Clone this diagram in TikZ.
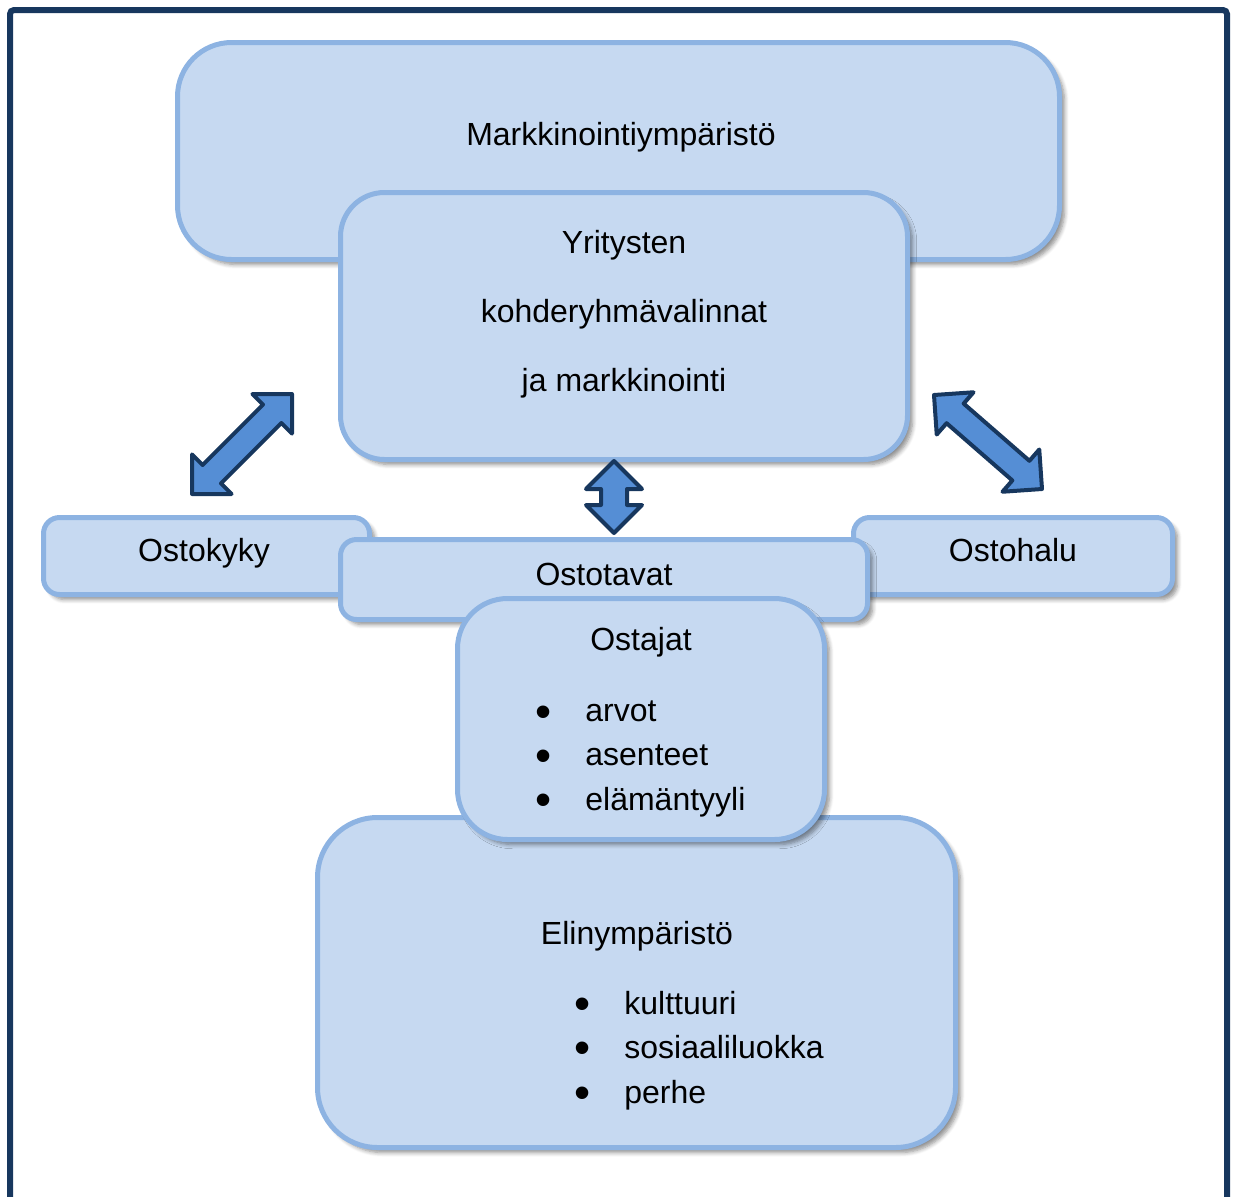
\documentclass[tikz,border=0pt]{standalone}
\usepackage{fontspec}
\setmainfont{Liberation Sans}
\usetikzlibrary{calc,shadows.blur}

\definecolor{boxfill}{HTML}{C6D9F1}
\definecolor{boxline}{HTML}{8DB3E2}
\definecolor{framecol}{HTML}{17375E}
\definecolor{arrowfill}{HTML}{558ED5}

\tikzset{
  box/.style={draw=boxline, fill=boxfill, line width=2.5pt,
    blur shadow={shadow xshift=2.5pt, shadow yshift=-2.5pt,
      shadow blur steps=6, shadow opacity=45}},
  txt/.style={anchor=base, inner sep=0pt, font=\fontsize{16}{19}\selectfont},
  item/.style={anchor=base west, inner sep=0pt, font=\fontsize{16}{19}\selectfont},
  dot/.style={anchor=center, inner sep=0pt, font=\fontsize{23}{26}\selectfont},
  barrow/.style={draw=framecol, fill=arrowfill, line width=2pt, line join=round}
}

% kaksipäinen nuoli kärjestä #1 kärkeen #2
\newcommand{\arhd}{14pt}
\newcommand{\arsh}{6.5pt}
\newcommand{\blockarrow}[2]{%
  \draw[barrow] (#1)
    -- ($(#1)!\arhd!(#2)!\arhd!90:(#2)$)
    -- ($(#1)!\arhd!(#2)!\arsh!90:(#2)$)
    -- ($(#2)!\arhd!(#1)!\arsh!-90:(#1)$)
    -- ($(#2)!\arhd!(#1)!\arhd!-90:(#1)$)
    -- (#2)
    -- ($(#2)!\arhd!(#1)!\arhd!90:(#1)$)
    -- ($(#2)!\arhd!(#1)!\arsh!90:(#1)$)
    -- ($(#1)!\arhd!(#2)!\arsh!-90:(#2)$)
    -- ($(#1)!\arhd!(#2)!\arhd!-90:(#2)$)
    -- cycle;}

\begin{document}
\begin{tikzpicture}[x=0.5pt, y=-0.5pt]
    \useasboundingbox (0,0) rectangle (1233,1196);

    % kehys
    \draw[framecol, line width=3pt, rounded corners=2pt]
        (10,1230) |- (1227,10) -- (1227,1230);

    % markkinointiympäristö
    \node[box, rounded corners=27pt, minimum width=441pt, minimum height=108.5pt] (mark) at (618.5,151) {};
    \node[txt] (marktxt) at (621,145) {Markkinointiympäristö};

    % yritykset
    \node[box, rounded corners=22pt, minimum width=283.5pt, minimum height=133.5pt] (yrit) at (624,326) {};
    \node[txt] (yrit1) at (624,253) {Yritysten};
    \node[txt] (yrit2) at (624,322) {kohderyhmävalinnat};
    \node[txt] (yrit3) at (624,391) {ja markkinointi};

    % ostokyky ja ostohalu
    \node[box, rounded corners=8pt, minimum width=163pt, minimum height=38.5pt] (kyky) at (206.5,556) {};
    \node[txt] (kykytxt) at (204,561) {Ostokyky};
    \node[box, rounded corners=8pt, minimum width=159.5pt, minimum height=38.5pt] (halu) at (1013,556) {};
    \node[txt] (halutxt) at (1013,561) {Ostohalu};

    % ostotavat
    \node[box, rounded corners=8pt, minimum width=263.5pt, minimum height=40pt] (tavat) at (604,579.5) {};
    \node[txt] (tavattxt) at (604,585) {Ostotavat};

    % elinympäristö
    \node[box, rounded corners=30pt, minimum width=319pt, minimum height=165pt] (elin) at (636.5,982.5) {};
    \node[txt] (elintxt) at (637,944) {Elinympäristö};
    \node[dot] (eb1) at (583,1009) {\textbullet};
    \node[item] (ei1) at (624,1014) {kulttuuri};
    \node[dot] (eb2) at (583,1053) {\textbullet};
    \node[item] (ei2) at (624,1058) {sosiaaliluokka};
    \node[dot] (eb3) at (583,1098) {\textbullet};
    \node[item] (ei3) at (624,1103) {perhe};

    % ostajat
    \node[box, rounded corners=25pt, minimum width=183.5pt, minimum height=120.5pt] (ostajat) at (641,719) {};
    \node[txt] (ostajattxt) at (641,650) {Ostajat};
    \node[dot] (ob1) at (544,717) {\textbullet};
    \node[item] (oi1) at (585,721) {arvot};
    \node[dot] (ob2) at (544,761) {\textbullet};
    \node[item] (oi2) at (585,765) {asenteet};
    \node[dot] (ob3) at (544,805) {\textbullet};
    \node[item] (oi3) at (585,810) {elämäntyyli};

    % nuolet
    \coordinate (kykyA) at (192,494);
    \coordinate (kykyB) at (292,394);
    \coordinate (haluA) at (934,395);
    \coordinate (haluB) at (1042,489);
    \coordinate (tavA) at (614,461);
    \coordinate (tavB) at (614,533);
    \blockarrow{kykyA}{kykyB}
    \blockarrow{haluA}{haluB}
    \blockarrow{tavA}{tavB}
\end{tikzpicture}
\end{document}
